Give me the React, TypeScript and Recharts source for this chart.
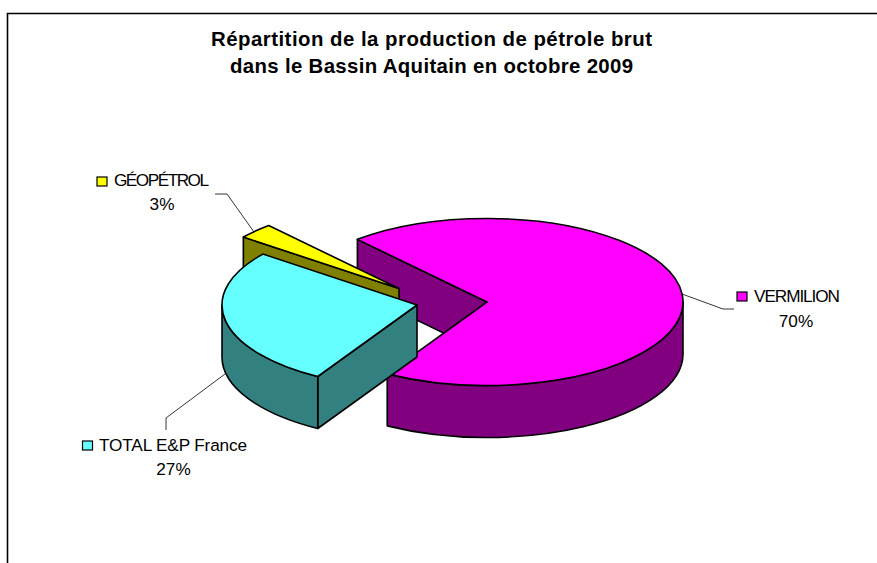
import React from "react";
import { PieChart, Pie } from "recharts";

const names = ["VERMILION", "TOTAL E&P France", "GÉOPÉTROL"];
const shares = [70, 27, 3];
const topColors = ["#FF00FF", "#66FFFF", "#FFFF00"];
const sideColors = ["#800080", "#338080", "#808000"];
const titleLines = [
  "Répartition de la production de pétrole brut",
  "dans le Bassin Aquitain en octobre 2009",
];
const data = names.map((name, i) => ({ name, value: shares[i] }));

// drawing order and exploded centres of the slices
const drawOrder = [0, 2, 1];
const centres = [
  { cx: 487, cy: 302, r: 196 },
  { cx: 417, cy: 305, r: 195 },
  { cx: 399, cy: 288.5, r: 197 },
];
const TILT = 0.426;
const DEPTH = 52;
const FIRST_ANGLE = 131.4;
const FONT = "'Liberation Sans', Arial, sans-serif";

const titleLayout = [
  { y: 45.5, w: 441 },
  { y: 72.5, w: 403 },
];
const labels = [
  { key: [737, 292], tx: 754, ty: 301.5, tw: 86, px: 796, py: 326.5, lead: "682,294 723,309 734,309" },
  { key: [82.5, 441], tx: 99, ty: 450.5, tw: 148, px: 173.5, py: 475, lead: "225,374 166,418 166,430" },
  { key: [97, 177], tx: 114, ty: 186, tw: 95, px: 162, py: 210, lead: "215,194 227,194 254,232" },
];

function slice3D(layer: number) {
  return function Slice(props: any) {
    const { cx, cy, outerRadius: rx, startAngle, endAngle, index } = props;
    if (index !== layer) return <g />;
    const ry = rx * TILT;
    const p = (a: number, d = 0) => {
      const t = (a * Math.PI) / 180;
      return `${(cx + rx * Math.cos(t)).toFixed(2)} ${(cy - ry * Math.sin(t) + d).toFixed(2)}`;
    };
    const hi = Math.max(startAngle, endAngle);
    const lo = Math.min(startAngle, endAngle);
    const large = hi - lo > 180 ? 1 : 0;
    const top = `M${cx} ${cy} L${p(hi)} A${rx} ${ry} 0 ${large} 1 ${p(lo)} Z`;
    const radial = `M${cx} ${cy} L${p(hi)} L${p(hi, DEPTH)} L${cx} ${cy + DEPTH} Z`;
    const walls: string[] = [];
    for (const k of [-360, 0, 360]) {
      const a1 = Math.min(hi, 0 + k);
      const a2 = Math.max(lo, -180 + k);
      if (a1 > a2) {
        const big = a1 - a2 > 180 ? 1 : 0;
        walls.push(
          `M${p(a1)} A${rx} ${ry} 0 ${big} 1 ${p(a2)} L${p(a2, DEPTH)} A${rx} ${ry} 0 ${big} 0 ${p(a1, DEPTH)} Z`
        );
      }
    }
    const st = { stroke: "#000", strokeWidth: 1.6, strokeLinejoin: "round" as const };
    return (
      <g>
        <path d={radial} fill={sideColors[index]} {...st} />
        {walls.map((d, i) => (
          <path key={i} d={d} fill={sideColors[index]} {...st} />
        ))}
        <path d={top} fill={topColors[index]} {...st} />
      </g>
    );
  };
}

export default function App() {
  const textStyle = { fontFamily: FONT, fontSize: 17.2, fill: "#000" };
  return (
    <div style={{ position: "fixed", left: 0, top: 0, width: 877, height: 563, overflow: "hidden", background: "#fff" }}>
      <PieChart width={877} height={563} margin={{ top: 0, right: 0, bottom: 0, left: 0 }}>
        <polyline points="7.5,563 7.5,13.5 877,13.5" fill="none" stroke="#000" strokeWidth={1.6} />
        {drawOrder.map((layer) => (
          <Pie
            key={layer}
            data={data}
            dataKey="value"
            nameKey="name"
            cx={centres[layer].cx}
            cy={centres[layer].cy}
            innerRadius={0}
            outerRadius={centres[layer].r}
            startAngle={FIRST_ANGLE}
            endAngle={FIRST_ANGLE - 360}
            isAnimationActive={false}
            shape={slice3D(layer)}
            label={false}
            labelLine={false}
          />
        ))}
        {titleLines.map((t, i) => (
          <text
            key={t}
            x={431.5}
            y={titleLayout[i].y}
            textAnchor="middle"
            textLength={titleLayout[i].w}
            lengthAdjust="spacing"
            style={{ fontFamily: FONT, fontSize: 20.4, fontWeight: 700, fill: "#000" }}
          >
            {t}
          </text>
        ))}
        {labels.map((l, i) => (
          <g key={names[i]}>
            <polyline points={l.lead} fill="none" stroke="#000" strokeWidth={0.8} />
            <rect x={l.key[0]} y={l.key[1]} width={10} height={9} fill={topColors[i]} stroke="#000" strokeWidth={1.2} />
            <text x={l.tx} y={l.ty} textLength={l.tw} lengthAdjust="spacing" style={textStyle}>{names[i]}</text>
            <text x={l.px} y={l.py} textAnchor="middle" style={textStyle}>{`${shares[i]}%`}</text>
          </g>
        ))}
      </PieChart>
    </div>
  );
}
